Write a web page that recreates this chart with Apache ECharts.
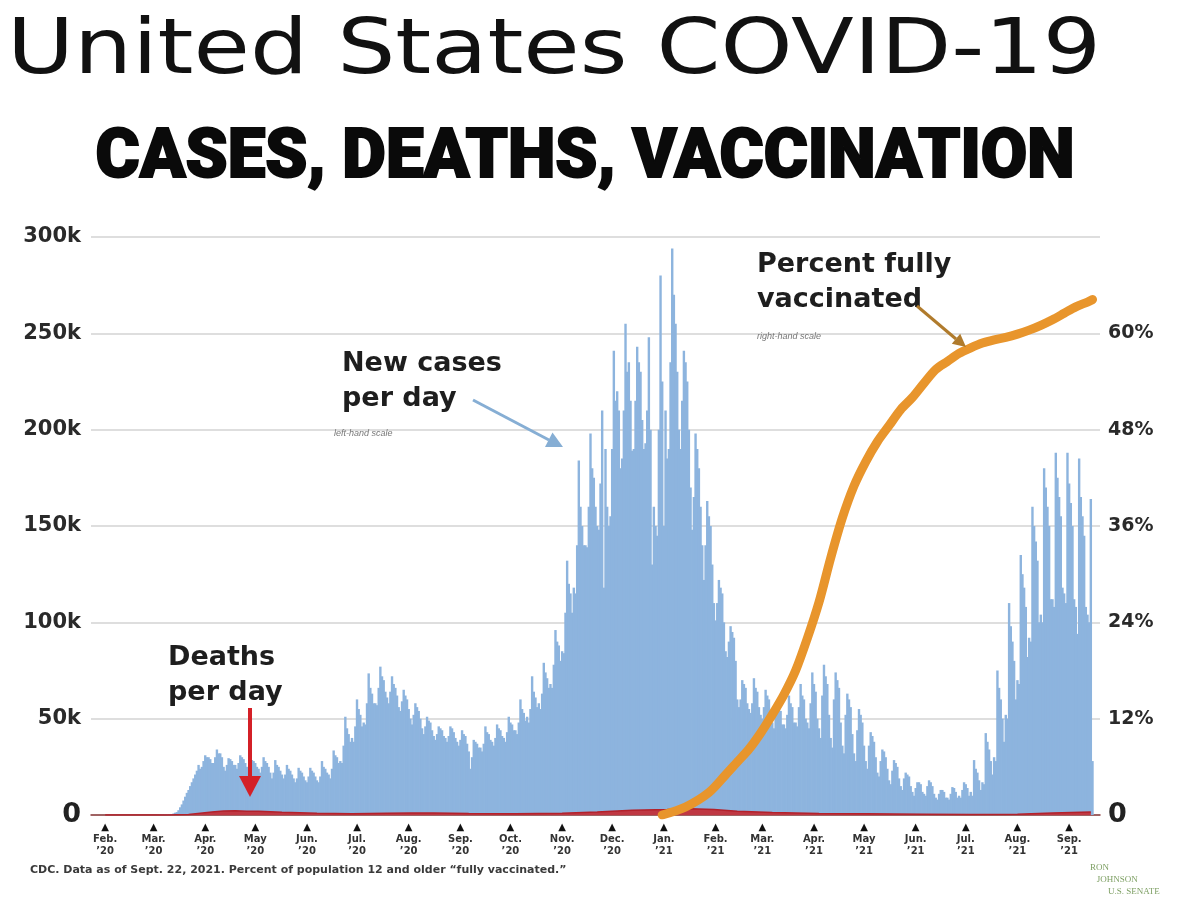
<!DOCTYPE html>
<html>
<head>
<meta charset="utf-8">
<title>United States COVID-19</title>
<script src="https://cdn.jsdelivr.net/npm/echarts@6/dist/echarts.min.js"></script>
<style>
  html, body { margin: 0; padding: 0; background: #fff; }
  #chart { width: 1182px; height: 919px; }
</style>
</head>
<body>
<div id="chart"></div>
<script>
// x axis: one category per day
const firstDay = '2020-01-24';
const dayCount = 605;
const monthNames = ['Jan.', 'Feb.', 'Mar.', 'Apr.', 'May', 'Jun.', 'Jul.', 'Aug.', 'Sep.', 'Oct.', 'Nov.', 'Dec.'];

// new cases per day (thousands), one line per week starting Sunday
const casesStart = '2020-03-01';
const casesK = [
  0.02, 0.02, 0.03, 0.04, 0.06, 0.08, 0.1,
  0.1, 0.2, 0.3, 0.4, 0.5, 0.8, 1.2,
  1.5, 2.5, 4, 5.5, 7.5, 9.5, 11.5,
  13, 15, 17, 19, 21, 23, 26,
  24, 25, 28, 31, 30, 30, 29,
  27, 27, 30, 34, 32, 32, 30,
  25, 23, 26, 29.5, 29, 28, 26,
  26, 24, 27, 31, 30, 29, 27,
  25, 23, 25, 28.5, 28, 27, 25,
  24, 22, 25, 30, 28, 27, 25,
  22, 19, 22, 28.5, 26, 25, 23,
  21, 19, 21, 26, 24, 23, 21,
  19, 17, 19, 24.5, 23, 22, 20,
  18, 17, 20, 24.5, 23, 22, 20,
  18, 17, 20, 28, 25, 24, 22,
  21, 19, 24, 33.5, 31, 30, 27,
  28, 27, 36, 51, 45, 42, 38,
  40, 38, 46, 60, 55, 52, 46,
  48, 47, 58, 73.5, 66, 63, 58,
  58, 57, 66, 77, 72, 70, 64,
  61, 58, 64, 72, 68, 66, 62,
  56, 54, 59, 65, 62, 60, 55,
  50, 47, 52, 58, 56, 54, 50,
  45, 42, 46, 51, 49, 48, 44,
  41, 39, 42, 46, 45, 44, 41,
  40, 38, 41, 46, 45, 43, 40,
  38, 36, 39, 44, 42, 41, 37,
  33, 24, 30, 39, 38, 37, 35,
  35, 33, 37, 46, 43, 42, 39,
  38, 36, 40, 47, 45, 44, 41,
  40, 38, 43, 51, 48, 47, 44,
  44, 42, 48, 60, 55, 53, 49,
  51, 48, 55, 72, 64, 61, 56,
  58, 55, 63, 79, 74, 71, 66,
  68, 66, 78, 96, 90, 88, 80,
  85, 84, 105, 132, 120, 115, 105,
  118, 115, 140, 184, 160, 150, 140,
  140, 139, 160, 198, 180, 175, 160,
  150, 148, 172, 210, 118, 190, 160,
  150, 155, 190, 241, 215, 220, 210,
  180, 185, 210, 255, 230, 235, 215,
  189, 190, 215, 243, 235, 230, 205,
  190, 193, 210, 248, 200, 130, 160,
  150, 145, 200, 280, 225, 150, 210,
  185, 190, 235, 294, 270, 255, 230,
  200, 190, 215, 241, 235, 225, 200,
  170, 148, 165, 198, 190, 180, 160,
  140, 122, 140, 163, 155, 150, 130,
  110, 101, 110, 122, 118, 115, 100,
  85, 82, 90, 98, 95, 92, 80,
  60, 56, 60, 70, 68, 66, 58,
  55, 53, 58, 71, 66, 64, 56,
  52, 50, 56, 65, 62, 60, 52,
  48, 45, 52, 58, 56, 54, 47,
  47, 45, 52, 62, 58, 56, 48,
  48, 46, 56, 68, 62, 60, 50,
  48, 45, 58, 74, 68, 64, 50,
  45, 40, 62, 78, 72, 68, 52,
  40, 35, 60, 74, 70, 66, 48,
  36, 32, 52, 63, 60, 56, 42,
  32, 28, 44, 55, 52, 48, 36,
  28, 24, 36, 43, 41, 38, 30,
  22, 20, 28, 34, 33, 30, 24,
  18, 16, 23, 28.5, 27, 25, 19,
  15, 13, 19, 22, 21, 20, 15,
  12, 10, 14, 17, 17, 16, 12,
  11, 10, 15, 18, 17, 15, 11,
  9, 8, 11, 13, 13, 12, 9,
  9, 8, 11, 14.5, 14, 12, 9,
  10, 9, 13, 17, 16, 14, 10,
  12, 10, 28.5, 24, 22, 18, 13,
  17, 16, 42.5, 38, 34, 28, 21,
  30, 28, 75, 66, 60, 50, 38,
  52, 50, 110, 98, 90, 80, 60,
  70, 68, 135, 125, 118, 108, 82,
  92, 90, 160, 150, 142, 132, 100,
  104, 100, 180, 170, 160, 150, 112,
  112, 108, 188, 175, 165, 155, 118,
  115, 110, 188, 172, 162, 150, 112,
  108, 94, 185, 165, 155, 145, 108,
  104, 100, 164, 28
];

// deaths per day (thousands)
const deathsK = [
  ['2020-02-01', 0], ['2020-03-08', 0.01], ['2020-03-22', 0.2], ['2020-03-29', 0.9],
  ['2020-04-05', 1.6], ['2020-04-12', 2.1], ['2020-04-19', 2.2], ['2020-04-26', 2.0],
  ['2020-05-03', 1.9], ['2020-05-17', 1.4], ['2020-06-07', 0.9], ['2020-06-28', 0.6],
  ['2020-07-19', 0.9], ['2020-08-02', 1.1], ['2020-08-16', 1.0], ['2020-09-06', 0.8],
  ['2020-10-04', 0.7], ['2020-11-01', 0.9], ['2020-11-22', 1.6], ['2020-12-13', 2.5],
  ['2021-01-03', 2.8], ['2021-01-17', 3.2], ['2021-01-31', 2.8], ['2021-02-14', 2.0],
  ['2021-03-07', 1.3], ['2021-04-04', 0.8], ['2021-05-02', 0.7], ['2021-06-06', 0.4],
  ['2021-07-04', 0.25], ['2021-08-01', 0.4], ['2021-08-22', 1.0], ['2021-09-14', 1.6]
];

// percent of population 12+ fully vaccinated
const vaccinatedPct = [
  ['2020-12-31', 0], ['2021-01-14', 1.0], ['2021-01-28', 2.8], ['2021-02-07', 5.0],
  ['2021-02-14', 6.6], ['2021-02-21', 8.2], ['2021-02-28', 10.2], ['2021-03-07', 12.5],
  ['2021-03-14', 15], ['2021-03-21', 18], ['2021-03-28', 22], ['2021-04-04', 26.5],
  ['2021-04-11', 32], ['2021-04-18', 37], ['2021-04-25', 41], ['2021-05-02', 44],
  ['2021-05-09', 46.5], ['2021-05-16', 48.5], ['2021-05-23', 50.5], ['2021-05-30', 52],
  ['2021-06-06', 53.8], ['2021-06-13', 55.5], ['2021-06-20', 56.5], ['2021-06-27', 57.5],
  ['2021-07-04', 58.2], ['2021-07-11', 58.8], ['2021-07-18', 59.2], ['2021-07-25', 59.5],
  ['2021-08-01', 59.9], ['2021-08-08', 60.4], ['2021-08-15', 61], ['2021-08-22', 61.7],
  ['2021-08-29', 62.5], ['2021-09-05', 63.3], ['2021-09-12', 63.9], ['2021-09-15', 64.2]
];

const days = [];
const t0 = Date.parse(firstDay);
for (let i = 0; i < dayCount; i++) {
  days.push(new Date(t0 + i * 86400000).toISOString().slice(0, 10));
}
const offset = days.indexOf(casesStart);
const casesData = days.map((d, i) => {
  const v = casesK[i - offset];
  return v === undefined ? null : v;
});

const isMonthStart = (i, d) => d.slice(8) === '01';
const monthLabel = d =>
  '{t|▲}\n{m|' + monthNames[+d.slice(5, 7) - 1] + '}\n{m|\u2019' + d.slice(2, 4) + '}';

const ink = '#1e1e1e';
const bold = '"DejaVu Sans", Verdana, sans-serif';

const chart = echarts.init(document.getElementById('chart'), null, { renderer: 'canvas' });

chart.setOption({
  animation: false,
  backgroundColor: '#fff',
  grid: { left: 91, right: 82, top: 237, bottom: 104, containLabel: false },
  xAxis: {
    type: 'category',
    data: days,
    boundaryGap: true,
    axisLine: { show: true, lineStyle: { color: '#8c3b3b', width: 1.5 } },
    axisTick: { show: false },
    splitLine: { show: false },
    axisLabel: {
      interval: isMonthStart,
      formatter: monthLabel,
      margin: 6,
      rich: {
        t: { fontSize: 10, lineHeight: 12, color: '#111', fontFamily: bold },
        m: { fontSize: 10, lineHeight: 12, fontWeight: 'bold', color: '#333', fontFamily: bold }
      }
    }
  },
  yAxis: [
    {
      type: 'value', min: 0, max: 300, interval: 50,
      axisLine: { show: false }, axisTick: { show: false },
      splitLine: { lineStyle: { color: '#dedede', width: 2 } },
      axisLabel: {
        margin: 10,
        formatter: v => (v === 0 ? '{z|0}' : v + 'k'),
        fontFamily: bold, fontWeight: 'bold', fontSize: 21, color: '#2a2a2a',
        rich: { z: { fontFamily: bold, fontWeight: 'bold', fontSize: 27, color: '#222' } }
      }
    },
    {
      type: 'value', min: 0, max: 72, interval: 12, position: 'right',
      axisLine: { show: false }, axisTick: { show: false },
      splitLine: { show: false },
      axisLabel: {
        margin: 8,
        formatter: v => (v === 0 ? '{z|0}' : v === 72 ? '' : v + '%'),
        fontFamily: bold, fontWeight: 'bold', fontSize: 19, color: '#2a2a2a',
        rich: { z: { fontFamily: bold, fontWeight: 'bold', fontSize: 27, color: '#222' } }
      }
    }
  ],
  series: [
    {
      name: 'New cases per day',
      type: 'bar',
      data: casesData,
      barWidth: 2.4,
      barGap: '-100%',
      itemStyle: { color: '#8db4de' },
      z: 2
    },
    {
      name: 'Deaths per day',
      type: 'line',
      data: deathsK,
      showSymbol: false,
      lineStyle: { color: '#b3212b', width: 1.5 },
      areaStyle: { color: '#c42a32', opacity: 0.9 },
      z: 3
    },
    {
      name: 'Percent fully vaccinated',
      type: 'line',
      yAxisIndex: 1,
      data: vaccinatedPct,
      smooth: 0.3,
      showSymbol: false,
      lineStyle: { color: '#e8952c', width: 9, cap: 'round', join: 'round' },
      z: 5
    }
  ],
  graphic: [
    {
      type: 'text', x: 7, y: 53, scaleX: 1.19, z: 100,
      style: { text: 'United States COVID-19', font: '400 77px ' + bold, fill: '#111', verticalAlign: 'middle' }
    },
    {
      type: 'text', x: 585, y: 160, scaleX: 0.99, z: 100,
      style: {
        text: 'CASES, DEATHS, VACCINATION', font: '900 68px Roboto, "Liberation Sans", sans-serif',
        fill: '#0a0a0a', stroke: '#0a0a0a', lineWidth: 2, align: 'center', verticalAlign: 'middle'
      }
    },
    // new cases label and arrow
    {
      type: 'text', x: 342, y: 346, z: 100,
      style: { text: 'New cases\nper day', font: 'bold 27px ' + bold, lineHeight: 35, fill: ink }
    },
    {
      type: 'text', x: 334, y: 429, z: 100,
      style: { text: 'left-hand scale', font: 'italic 9px "Liberation Sans", sans-serif', fill: '#777' }
    },
    { type: 'line', z: 100, shape: { x1: 473, y1: 400, x2: 549, y2: 440 }, style: { stroke: '#86aed4', lineWidth: 3 } },
    { type: 'polygon', z: 100, shape: { points: [[563, 447], [545, 447], [552.5, 432.5]] }, style: { fill: '#86aed4' } },
    // vaccinated label and arrow
    {
      type: 'text', x: 757, y: 247, z: 100,
      style: { text: 'Percent fully\nvaccinated', font: 'bold 27px ' + bold, lineHeight: 35, fill: ink }
    },
    {
      type: 'text', x: 757, y: 332, z: 100,
      style: { text: 'right-hand scale', font: 'italic 9px "Liberation Sans", sans-serif', fill: '#777' }
    },
    { type: 'line', z: 100, shape: { x1: 917, y1: 306, x2: 956, y2: 339 }, style: { stroke: '#b07b2c', lineWidth: 3 } },
    { type: 'polygon', z: 100, shape: { points: [[966, 347], [951.8, 343.7], [960.2, 333.7]] }, style: { fill: '#b07b2c' } },
    // deaths label and arrow
    {
      type: 'text', x: 168, y: 640, z: 100,
      style: { text: 'Deaths\nper day', font: 'bold 27px ' + bold, lineHeight: 35, fill: ink }
    },
    { type: 'line', z: 100, shape: { x1: 250, y1: 708, x2: 250, y2: 778 }, style: { stroke: '#d42027', lineWidth: 4 } },
    { type: 'polygon', z: 100, shape: { points: [[239, 776], [261, 776], [250, 797]] }, style: { fill: '#d42027' } },
    // footnote
    {
      type: 'text', x: 30, y: 870, z: 100,
      style: { text: 'CDC. Data as of Sept. 22, 2021. Percent of population 12 and older \u201cfully vaccinated.\u201d', font: 'bold 11px ' + bold, fill: '#3a3a3a', verticalAlign: 'middle' }
    },
    // logo
    {
      type: 'text', x: 1090, y: 862, z: 100,
      style: { text: 'RON\n   JOHNSON\n        U.S. SENATE', font: '9px "Liberation Serif", serif', lineHeight: 12, fill: '#7d9f63' }
    }
  ]
});
</script>
</body>
</html>
